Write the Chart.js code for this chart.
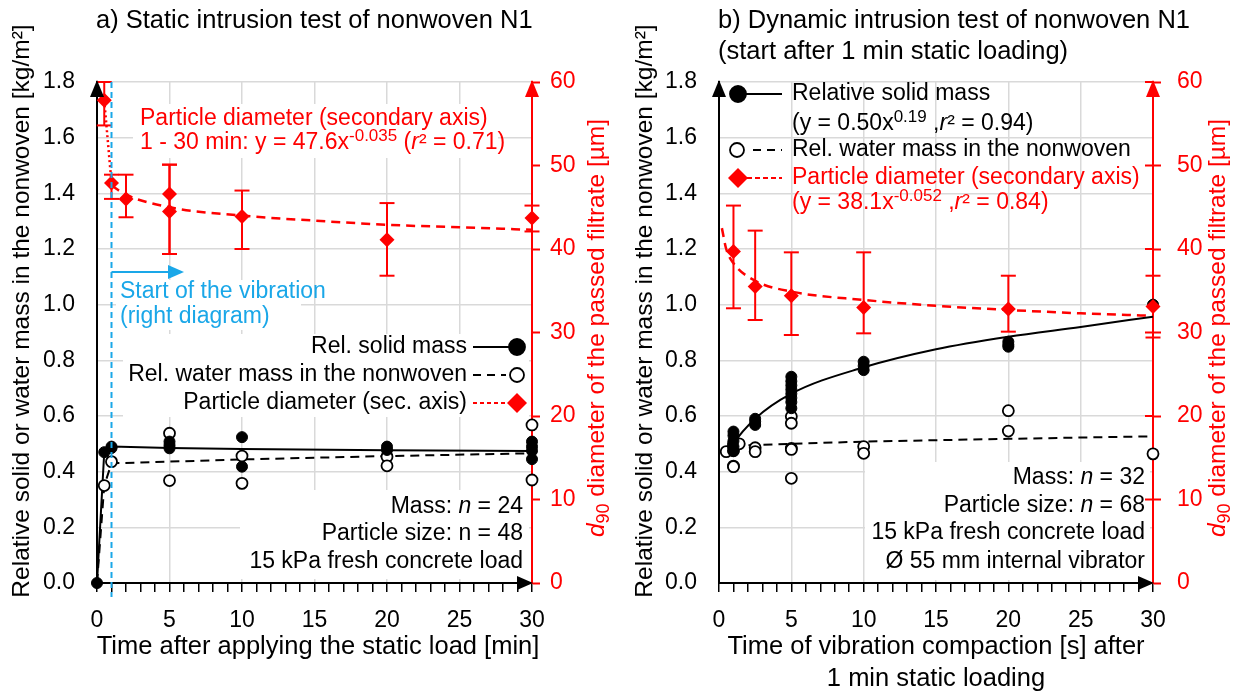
<!DOCTYPE html>
<html>
<head>
<meta charset="utf-8">
<script src="https://cdn.jsdelivr.net/npm/chart.js@4.4.0/dist/chart.umd.min.js"></script>
<style>
  html, body { margin: 0; padding: 0; background: #fff; overflow: hidden; }
  #wrap { position: relative; width: 1247px; height: 693px; }
  canvas { position: absolute; top: 0; }
  #chartStatic { left: 0; }
  #chartDynamic { left: 620px; }
</style>
</head>
<body>
<div id="wrap">
  <canvas id="chartStatic" width="620" height="693"></canvas>
  <canvas id="chartDynamic" width="627" height="693"></canvas>
</div>
<script>
// --- Axis ticks ---
const massTicks = [0, 0.2, 0.4, 0.6, 0.8, 1.0, 1.2, 1.4, 1.6, 1.8];
const d90Ticks = [0, 10, 20, 30, 40, 50, 60];
const timeTicks = [0, 5, 10, 15, 20, 25, 30];

// --- a) static test (x = minutes) ---
const staticSolidX = [0, 0.5, 1, 1, 5, 5, 5, 10, 10, 20, 20, 30, 30, 30, 30];
const staticSolidY = [0.0, 0.47, 0.49, 0.485, 0.508, 0.495, 0.484, 0.524, 0.418, 0.49, 0.478, 0.508, 0.49, 0.475, 0.445];
const staticWaterX = [0.5, 1, 5, 5, 10, 10, 20, 20, 30, 30];
const staticWaterY = [0.35, 0.436, 0.538, 0.368, 0.456, 0.358, 0.454, 0.421, 0.568, 0.37];
const staticD90X = [0.5, 1, 2, 5, 5, 10, 20, 30];
const staticD90 = [57.8, 47.9, 46.0, 46.6, 44.5, 43.9, 41.1, 43.7];
const staticD90Lo = [54.8, 46.0, 43.8, 39.4, 39.4, 40.0, 36.8, 42.1];
const staticD90Hi = [60.0, 48.9, 48.9, 50.1, 50.1, 47.0, 45.5, 45.2];
const staticSolidFitX = [0, 0.5, 1, 5, 10, 20, 30];
const staticSolidFitY = [0, 0.47, 0.49, 0.485, 0.481, 0.477, 0.474];
const staticWaterFitX = [0, 0.5, 1, 5, 10, 20, 30];
const staticWaterFitY = [0, 0.35, 0.43, 0.436, 0.444, 0.456, 0.466];
const staticD90FitX = [1, 2, 5, 10, 15, 20, 25, 30];
const staticD90FitY = [47.6, 46.5, 45.0, 44.0, 43.4, 42.9, 42.6, 42.3];
const staticD90LinkX = [0.5, 1];
const staticD90LinkY = [57.8, 47.9];

// --- b) dynamic test (x = seconds) ---
const dynSolidX = [1, 1, 1, 1, 1, 2.5, 2.5, 2.5, 5, 5, 5, 5, 5, 5, 5, 5, 10, 10, 10, 20, 20, 20, 30];
const dynSolidY = [0.544, 0.53, 0.51, 0.49, 0.475, 0.59, 0.58, 0.568, 0.741, 0.725, 0.71, 0.695, 0.68, 0.665, 0.65, 0.628, 0.795, 0.78, 0.765, 0.867, 0.856, 0.849, 1.0];
const dynWaterX = [0.5, 1, 1, 1, 1, 1, 1.4, 2.5, 2.5, 5, 5, 5, 5, 5, 10, 10, 20, 20, 30];
const dynWaterY = [0.472, 0.50, 0.49, 0.475, 0.42, 0.418, 0.50, 0.486, 0.472, 0.598, 0.574, 0.484, 0.48, 0.376, 0.49, 0.466, 0.619, 0.546, 0.464];
const dynD90X = [1, 2.5, 5, 10, 20, 30];
const dynD90 = [39.7, 35.5, 34.4, 33.0, 32.8, 33.1];
const dynD90Lo = [32.9, 31.5, 29.7, 29.9, 30.1, 29.4];
const dynD90Hi = [45.2, 42.2, 39.6, 39.6, 36.8, 36.8];
const dynSolidFitX = [0.7, 1, 2.5, 5, 10, 15, 20, 25, 30];
const dynSolidFitY = [0.47, 0.50, 0.59, 0.68, 0.775, 0.84, 0.885, 0.92, 0.957];
const dynWaterFitX = [1, 5, 10, 20, 30];
const dynWaterFitY = [0.493, 0.500, 0.508, 0.518, 0.527];
const dynD90FitX = [0.2, 0.5, 1, 2.5, 5, 10, 15, 20, 25, 30];
const dynD90FitY = [42.5, 40.0, 38.3, 36.2, 34.9, 33.9, 33.2, 32.7, 32.3, 32.0];

// --- Styling ---
const FAM = '"Liberation Sans", Arial, sans-serif';
const FS = 23;       // ticks, legend, notes
const FS_AX = 25.5;  // x axis titles
const FS_AY = 24.5;  // y axis titles
const FS_T = 25.5;   // panel titles
const RED = '#ff0000';
const BLUE = '#1aa7e8';
const GRID = '#d9d9d9';
const NONE = 'rgba(0,0,0,0)';

function pts(xs, ys) { return xs.map((x, i) => ({ x: x, y: ys[i] })); }
function font(size, italic) { return (italic ? 'italic ' : '') + size + 'px ' + FAM; }

// text made of parts: plain strings or {t, i, sup, sub}
function rich(ctx, parts, x, y, align, color, size) {
    size = size || FS;
    const segs = parts.map(p => typeof p === 'string' ? { t: p } : Object.assign({}, p));
    let w = 0;
    segs.forEach(s => {
        s.fs = (s.sup || s.sub) ? Math.round(size * 0.72) : size;
        ctx.font = font(s.fs, s.i);
        s.w = ctx.measureText(s.t).width;
        w += s.w;
    });
    let cx = align === 'right' ? x - w : align === 'center' ? x - w / 2 : x;
    ctx.fillStyle = color;
    ctx.textBaseline = 'middle';
    ctx.textAlign = 'left';
    segs.forEach(s => {
        ctx.font = font(s.fs, s.i);
        const dy = s.sup ? -size * 0.3 : s.sub ? size * 0.28 : 0;
        ctx.fillText(s.t, cx, y + dy);
        cx += s.w;
    });
}

function richV(ctx, parts, x, y, color, size) {
    ctx.save();
    ctx.translate(x, y);
    ctx.rotate(-Math.PI / 2);
    rich(ctx, parts, 0, 0, 'center', color, size);
    ctx.restore();
}

function tri(ctx, a, b, c, color) {
    ctx.beginPath();
    ctx.moveTo(a[0], a[1]); ctx.lineTo(b[0], b[1]); ctx.lineTo(c[0], c[1]);
    ctx.closePath();
    ctx.fillStyle = color;
    ctx.fill();
}

function seg(ctx, x1, y1, x2, y2, color, width, dash) {
    ctx.beginPath();
    ctx.setLineDash(dash || []);
    ctx.moveTo(x1, y1); ctx.lineTo(x2, y2);
    ctx.strokeStyle = color; ctx.lineWidth = width;
    ctx.stroke();
    ctx.setLineDash([]);
}

function dot(ctx, x, y, r, fill, stroke) {
    ctx.beginPath();
    ctx.arc(x, y, r, 0, Math.PI * 2);
    ctx.fillStyle = fill; ctx.fill();
    ctx.lineWidth = 1.8; ctx.strokeStyle = stroke; ctx.stroke();
}

function diamond(ctx, x, y, r, color) {
    tri(ctx, [x, y - r], [x + r, y], [x, y + r], color);
    tri(ctx, [x, y - r], [x - r, y], [x, y + r], color);
}

function drawErrorBars(chart) {
    const ctx = chart.ctx;
    const xs = chart.scales.x, ys = chart.scales.y2;
    chart.data.datasets.forEach(ds => {
        if (!ds.errLo) return;
        ds.data.forEach((p, i) => {
            const px = xs.getPixelForValue(p.x);
            const lo = ys.getPixelForValue(ds.errLo[i]);
            const hi = ys.getPixelForValue(ds.errHi[i]);
            seg(ctx, px, lo, px, hi, RED, 2);
            seg(ctx, px - 7.5, lo, px + 7.5, lo, RED, 2);
            seg(ctx, px - 7.5, hi, px + 7.5, hi, RED, 2);
        });
    });
}

function drawAxisArrows(chart) {
    const ctx = chart.ctx, a = chart.chartArea;
    tri(ctx, [a.left, a.top - 2], [a.left - 7, a.top + 15], [a.left + 7, a.top + 15], '#000');
    tri(ctx, [a.right + 1, a.bottom], [a.right - 15, a.bottom - 7], [a.right - 15, a.bottom + 7], '#000');
    tri(ctx, [a.right, a.top - 2], [a.right - 7, a.top + 15], [a.right + 7, a.top + 15], RED);
}

function scales(yWidth, y2Width, y2Pad) {
    return {
        x: {
            type: 'linear', min: 0, max: 30,
            ticks: {
                stepSize: 1, autoSkip: false, maxRotation: 0, color: '#000',
                font: { family: FAM, size: FS }, padding: 15,
                callback: v => timeTicks.includes(v) ? String(v) : ''
            },
            grid: {
                color: c => (c.tick && timeTicks.includes(c.tick.value) && c.tick.value > 0 && c.tick.value < 30) ? GRID : NONE,
                lineWidth: 1.5, tickColor: '#000', tickLength: 9, tickWidth: 1.5
            },
            border: { color: '#000', width: 2 },
            afterFit: s => { s.height = 110; }
        },
        y: {
            min: 0, max: 1.8,
            afterBuildTicks: s => { s.ticks = massTicks.map(v => ({ value: v })); },
            ticks: { color: '#000', font: { family: FAM, size: FS }, padding: 22, callback: v => v.toFixed(1) },
            grid: { color: c => (c.tick && c.tick.value > 0) ? GRID : NONE, lineWidth: 1.5, drawTicks: false },
            border: { color: '#000', width: 2 },
            afterFit: s => { s.width = yWidth; }
        },
        y2: {
            position: 'right', min: 0, max: 60,
            afterBuildTicks: s => { s.ticks = d90Ticks.map(v => ({ value: v })); },
            ticks: { color: RED, font: { family: FAM, size: FS }, padding: y2Pad, callback: v => String(v) },
            grid: { drawOnChartArea: false, color: RED, tickColor: RED, tickLength: 8, tickWidth: 2 },
            border: { color: RED, width: 2 },
            afterFit: s => { s.width = y2Width; }
        }
    };
}

function datasets(solid, water, d90, lo, hi, solidFit, waterFit, d90Fit, curved) {
    return [
        { data: d90, yAxisID: 'y2', pointStyle: 'rectRot', pointRadius: 7.5, backgroundColor: RED, borderColor: RED, borderWidth: 0, errLo: lo, errHi: hi, clip: false },
        { data: solid, yAxisID: 'y', pointRadius: 5.5, backgroundColor: '#000', borderColor: '#000', borderWidth: 1, clip: false },
        { data: water, yAxisID: 'y', pointRadius: 5.5, backgroundColor: '#fff', borderColor: '#000', borderWidth: 1.8, clip: false },
        { data: solidFit, yAxisID: 'y', showLine: true, pointRadius: 0, borderColor: '#000', borderWidth: 2, cubicInterpolationMode: curved ? 'monotone' : 'default' },
        { data: waterFit, yAxisID: 'y', showLine: true, pointRadius: 0, borderColor: '#000', borderWidth: 2, borderDash: [9, 6] },
        { data: d90Fit, yAxisID: 'y2', showLine: true, pointRadius: 0, borderColor: RED, borderWidth: 2.5, borderDash: [9, 6], cubicInterpolationMode: 'monotone' }
    ];
}

function baseOptions(extraScales) {
    return {
        responsive: false,
        animation: false,
        devicePixelRatio: 1,
        layout: { padding: { top: 82, left: 0, right: 0, bottom: 0 } },
        plugins: { legend: { display: false }, tooltip: { enabled: false } },
        scales: extraScales
    };
}

// ---------------- a) static chart ----------------
const decoStatic = {
    id: 'decoStatic',
    beforeDatasetsDraw(chart) {
        const ctx = chart.ctx;
        ctx.save();
        ctx.fillStyle = '#fff';
        ctx.fillRect(133, 104, 365, 54);
        ctx.fillRect(116, 280, 185, 50);
        ctx.fillRect(123, 334, 406, 83);
        ctx.fillRect(240, 490, 289, 89);
        drawErrorBars(chart);
        ctx.restore();
    },
    afterDraw(chart) {
        const ctx = chart.ctx, a = chart.chartArea;
        ctx.save();
        // start of vibration marker
        const vx = chart.scales.x.getPixelForValue(1);
        seg(ctx, vx, a.top, vx, a.bottom + 14, BLUE, 2, [6, 4]);
        seg(ctx, vx, 272, 170, 272, BLUE, 2);
        tri(ctx, [184, 272], [168, 265], [168, 279], BLUE);
        rich(ctx, ['Start of the vibration'], 120, 292, 'left', BLUE);
        rich(ctx, ['(right diagram)'], 120, 317, 'left', BLUE);

        drawAxisArrows(chart);

        // titles
        rich(ctx, ['a) Static intrusion test of nonwoven N1'], 96, 21, 'left', '#000', FS_T);
        richV(ctx, ['Relative solid or water mass in the nonwoven [kg/m²]'], 22, 311, '#000', FS_AY);
        richV(ctx, [{ t: 'd', i: true }, { t: '90', sub: true }, ' diameter of the passed filtrate [µm]'], 597, 328, RED, FS_AY);
        rich(ctx, ['Time after applying the static load [min]'], 318, 647, 'center', '#000', FS_AX);

        // red annotation
        rich(ctx, ['Particle diameter (secondary axis)'], 140, 119, 'left', RED);
        rich(ctx, ['1 - 30 min: y = 47.6x', { t: '-0.035', sup: true }, ' (', { t: 'r', i: true }, '² = 0.71)'], 140, 143, 'left', RED);

        // legend
        rich(ctx, ['Rel. solid mass'], 467, 347, 'right', '#000');
        seg(ctx, 473, 347, 512, 347, '#000', 2);
        dot(ctx, 517, 347, 8, '#000', '#000');
        rich(ctx, ['Rel. water mass in the nonwoven'], 467, 375, 'right', '#000');
        seg(ctx, 473, 375, 506, 375, '#000', 2, [8, 6]);
        dot(ctx, 517, 375, 7, '#fff', '#000');
        rich(ctx, ['Particle diameter (sec. axis)'], 467, 403, 'right', '#000');
        seg(ctx, 473, 403, 508, 403, RED, 2, [4, 3]);
        diamond(ctx, 517, 403, 10, RED);

        // sample info
        rich(ctx, ['Mass: ', { t: 'n', i: true }, ' = 24'], 523, 507, 'right', '#000');
        rich(ctx, ['Particle size: n = 48'], 523, 534, 'right', '#000');
        rich(ctx, ['15 kPa fresh concrete load'], 523, 562, 'right', '#000');
        ctx.restore();
    }
};

const staticData = datasets(
    pts(staticSolidX, staticSolidY), pts(staticWaterX, staticWaterY),
    pts(staticD90X, staticD90), staticD90Lo, staticD90Hi,
    pts(staticSolidFitX, staticSolidFitY), pts(staticWaterFitX, staticWaterFitY),
    pts(staticD90FitX, staticD90FitY), false);
staticData.push({ data: pts(staticD90LinkX, staticD90LinkY), yAxisID: 'y2', showLine: true, pointRadius: 0, borderColor: RED, borderWidth: 2.5, borderDash: [2, 3] });

new Chart(document.getElementById('chartStatic'), {
    type: 'scatter',
    data: { datasets: staticData },
    options: baseOptions(scales(97, 88, 10)),
    plugins: [decoStatic]
});

// ---------------- b) dynamic chart ----------------
const decoDynamic = {
    id: 'decoDynamic',
    beforeDatasetsDraw(chart) {
        const ctx = chart.ctx;
        ctx.save();
        ctx.fillStyle = '#fff';
        ctx.fillRect(245, 462, 285, 118);
        drawErrorBars(chart);
        ctx.restore();
    },
    afterDraw(chart) {
        const ctx = chart.ctx, a = chart.chartArea;
        ctx.save();
        // inner half of the cross ticks on the secondary axis
        d90Ticks.forEach(v => {
            const py = chart.scales.y2.getPixelForValue(v);
            seg(ctx, a.right - 8, py, a.right, py, RED, 2);
        });
        drawAxisArrows(chart);

        // titles
        rich(ctx, ['b) Dynamic intrusion test of nonwoven N1'], 98, 21, 'left', '#000', FS_T);
        rich(ctx, ['(start after 1 min static loading)'], 98, 52, 'left', '#000', FS_T);
        richV(ctx, ['Relative solid or water mass in the nonwoven [kg/m²]'], 25, 311, '#000', FS_AY);
        richV(ctx, [{ t: 'd', i: true }, { t: '90', sub: true }, ' diameter of the passed filtrate [µm]'], 598, 328, RED, FS_AY);
        rich(ctx, ['Time of vibration compaction [s] after'], 316, 647, 'center', '#000', FS_AX);
        rich(ctx, ['1 min static loading'], 316, 679, 'center', '#000', FS_AX);

        // legend
        dot(ctx, 118, 94, 8, '#000', '#000');
        seg(ctx, 123, 94, 162, 94, '#000', 2);
        rich(ctx, ['Relative solid mass'], 172, 94, 'left', '#000');
        rich(ctx, ['(y = 0.50x', { t: '0.19', sup: true }, ' ,', { t: 'r', i: true }, '² = 0.94)'], 172, 124, 'left', '#000');
        dot(ctx, 117, 150, 7, '#fff', '#000');
        seg(ctx, 133, 150, 162, 150, '#000', 2, [8, 6]);
        rich(ctx, ['Rel. water mass in the nonwoven'], 172, 150, 'left', '#000');
        diamond(ctx, 118, 178, 10, RED);
        seg(ctx, 127, 178, 162, 178, RED, 2, [5, 3]);
        rich(ctx, ['Particle diameter (secondary axis)'], 172, 178, 'left', RED);
        rich(ctx, ['(y = 38.1x', { t: '-0.052', sup: true }, ' ,', { t: 'r', i: true }, '² = 0.84)'], 172, 203, 'left', RED);

        // sample info
        rich(ctx, ['Mass: ', { t: 'n', i: true }, ' = 32'], 525, 478, 'right', '#000');
        rich(ctx, ['Particle size: ', { t: 'n', i: true }, ' = 68'], 525, 506, 'right', '#000');
        rich(ctx, ['15 kPa fresh concrete load'], 525, 533, 'right', '#000');
        rich(ctx, ['Ø 55 mm internal vibrator'], 525, 562, 'right', '#000');
        ctx.restore();
    }
};

new Chart(document.getElementById('chartDynamic'), {
    type: 'scatter',
    data: {
        datasets: datasets(
            pts(dynSolidX, dynSolidY), pts(dynWaterX, dynWaterY),
            pts(dynD90X, dynD90), dynD90Lo, dynD90Hi,
            pts(dynSolidFitX, dynSolidFitY), pts(dynWaterFitX, dynWaterFitY),
            pts(dynD90FitX, dynD90FitY), true)
    },
    options: baseOptions(scales(99, 94, 16)),
    plugins: [decoDynamic]
});
</script>
</body>
</html>
